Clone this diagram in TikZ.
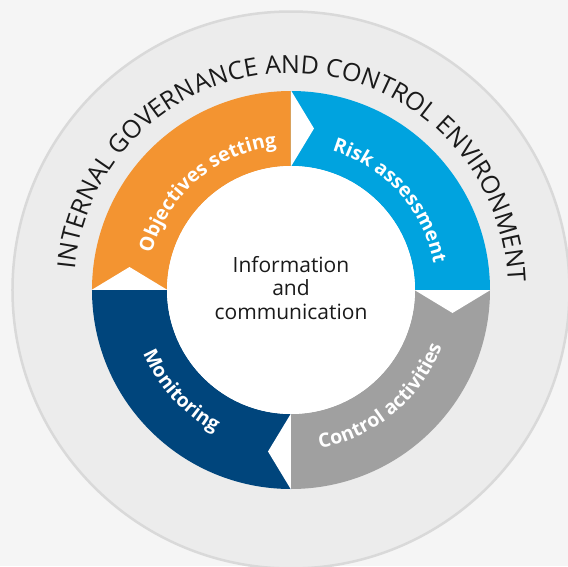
\documentclass[tikz,border=0pt]{standalone}
\usepackage{fontspec}
\setmainfont{Open Sans}
\usepackage{xcolor}
\usepackage{tikz}
\usetikzlibrary{calc,decorations.text}

\definecolor{pagegray}{HTML}{F5F5F5}
\definecolor{envgray}{HTML}{ECECEC}
\definecolor{envrim}{HTML}{D9D9D9}
\definecolor{objorange}{HTML}{F39431}
\definecolor{riskblue}{HTML}{00A3DF}
\definecolor{ctrlgray}{HTML}{A0A0A0}
\definecolor{monnavy}{HTML}{00457C}
\definecolor{inktext}{HTML}{1A1A1A}

\newcommand{\envfont}{\fontsize{25}{27}\selectfont}
\newcommand{\segfont}{\fontsize{19.5}{21}\selectfont\bfseries}

\begin{document}
\begin{tikzpicture}[
  x=1pt, y=1pt,
  envlabel/.style={decorate, decoration={text along path, text align=center,
                   text color=inktext, text={|\envfont|#1}}},
  seglabel/.style={decorate, decoration={text along path, text align=center,
                   text color=white, text={|\segfont|#1}}},
  infobox/.style={align=center, text=inktext, font=\fontsize{21}{23.5}\selectfont}
]
%% ── Page and environment disk ──────────────────────────────────────────
\useasboundingbox (-291,-276) rectangle (277,290);
\clip (-291,-276) rectangle (277,290);
\fill[pagegray] (-291,-276) rectangle (277,290);
\filldraw[fill=envgray, draw=envrim, line width=2.5pt] (0,0) circle[radius=278.5pt];
%% ── Four ring segments, clockwise from the left ────────────────────────
\foreach \a/\col in {180/objorange, 90/riskblue, 0/ctrlgray, -90/monnavy}{
  \fill[\col] (\a:199) arc[start angle=\a, end angle=\a-90, radius=199pt]
    -- (\a-90:124) arc[start angle=\a-90, end angle=\a, radius=124pt] -- cycle;
  % notch at the start of each segment
  \fill[white] (\a:123.5) -- (\a:199.5) -- ($(\a:161.5)+(\a-90:23)$) -- cycle;
}
%% ── Inner disk ─────────────────────────────────────────────────────────
\fill[white] (0,0) circle[radius=124pt];
\node[infobox] (info) at (0,2) {Information\\and\\communication};
%% ── Curved labels ──────────────────────────────────────────────────────
\path[envlabel={INTERNAL GOVERNANCE AND CONTROL ENVIRONMENT}]
  (183.25:217) arc[start angle=183.25, end angle=-6.75, radius=217pt];
\path[seglabel={Objectives setting}]
  (178:144) arc[start angle=178, end angle=83, radius=144pt];
\path[seglabel={Risk assessment}]
  (89.5:145) arc[start angle=89.5, end angle=-5.5, radius=145pt];
\path[seglabel={Control activities}]
  (-97:161) arc[start angle=-97, end angle=-3, radius=161pt];
\path[seglabel={Monitoring}]
  (-185:161) arc[start angle=-185, end angle=-90, radius=161pt];
\end{tikzpicture}
\end{document}
